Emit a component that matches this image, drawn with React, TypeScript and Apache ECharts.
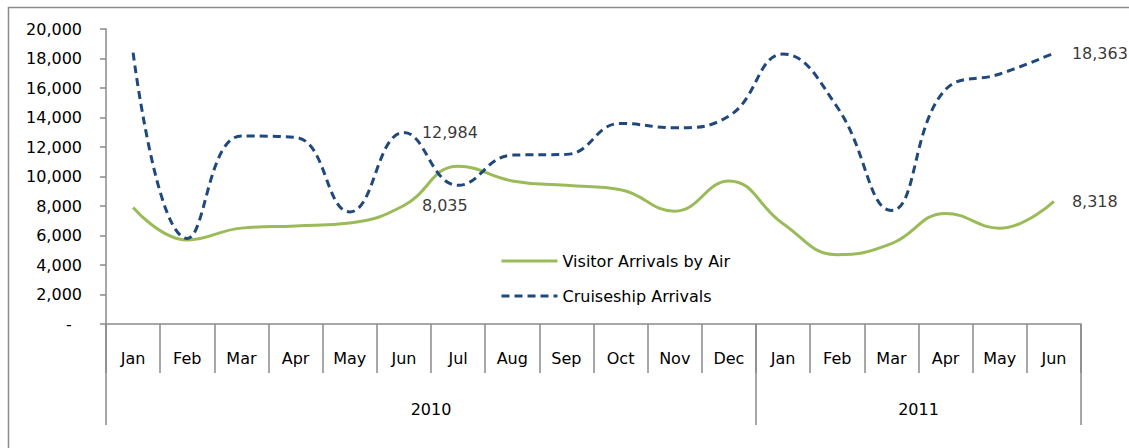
import React, { useEffect, useRef } from "react";
import * as echarts from "echarts";

const months = ["Jan", "Feb", "Mar", "Apr", "May", "Jun", "Jul", "Aug", "Sep", "Oct", "Nov", "Dec", "Jan", "Feb", "Mar", "Apr", "May", "Jun"];
const years = ["2010", "2011"];
const yearMonthCounts = [12, 6];
const airArrivals = [7900, 5700, 6500, 6650, 6850, 8035, 10700, 9700, 9400, 9100, 7650, 9700, 6800, 4700, 5450, 7500, 6500, 8318];
const cruiseArrivals = [18400, 5800, 12750, 12650, 7600, 12984, 9400, 11450, 11500, 13600, 13300, 14100, 18300, 14700, 7700, 15900, 16950, 18363];
const labeledIndices = [5, 17];
const yTicks = { min: 0, max: 20000, step: 2000 };

const FONT = "DejaVu Sans";
const AXIS_COLOR = "#8a8a8a";

export default function App() {
  const ref = useRef<HTMLDivElement>(null);
  useEffect(() => {
    if (!ref.current) return;
    const chart = echarts.init(ref.current, null, { renderer: "svg" });

    const boundaries: number[] = [0];
    const centers: number[] = [];
    let acc = 0;
    yearMonthCounts.forEach((c) => {
      centers.push(acc + c / 2);
      acc += c;
      boundaries.push(acc);
    });

    const labelSeries = (vals: number[]) => ({
      type: "scatter",
      xAxisIndex: 0,
      symbolSize: 0,
      silent: true,
      data: labeledIndices.map((i) => [i, vals[i]]),
      label: {
        show: true,
        position: "right",
        distance: 18,
        color: "#000",
        fontSize: 16,
        fontFamily: FONT,
        formatter: (p: any) => Number(p.value[1]).toLocaleString("en-US"),
      },
      z: 5,
    });

    chart.setOption({
      animation: false,
      textStyle: { fontFamily: FONT },
      grid: { left: 106, right: 48, top: 29, bottom: 124, outerBoundsMode: "none", containLabel: false },
      graphic: [
        { type: "rect", shape: { x: 8.5, y: 7.5, width: 1300, height: 600 }, style: { fill: "none", stroke: "#8c8c8c", lineWidth: 1.5 }, silent: true, z: -1 },
      ],
      legend: {
        orient: "vertical",
        left: 495,
        top: 248,
        itemWidth: 56,
        itemHeight: 16,
        itemGap: 19,
        itemStyle: { opacity: 0 },
        lineStyle: { width: 3 },
        textStyle: { fontSize: 16, color: "#000", fontFamily: FONT },
        data: ["Visitor Arrivals by Air", "Cruiseship Arrivals"],
      },
      xAxis: [
        {
          type: "category",
          position: "bottom",
          data: months,
          boundaryGap: true,
          axisLine: { show: true, lineStyle: { color: AXIS_COLOR, width: 1.5 } },
          axisTick: { show: true, interval: 0, length: 49, lineStyle: { color: AXIS_COLOR, width: 1.5 } },
          axisLabel: { interval: 0, margin: 26, fontSize: 16, color: "#000", fontFamily: FONT },
          splitLine: { show: false },
        },
        {
          type: "value",
          position: "bottom",
          min: 0,
          max: acc,
          axisLine: { show: false },
          axisTick: { show: true, customValues: boundaries, length: 101, lineStyle: { color: AXIS_COLOR, width: 1.5 } },
          axisLabel: {
            customValues: centers,
            margin: 77,
            fontSize: 16,
            color: "#000",
            fontFamily: FONT,
            formatter: (v: number) => {
              const idx = centers.indexOf(v);
              return idx >= 0 ? years[idx] : "";
            },
          },
          splitLine: { show: false },
        },
      ],
      yAxis: {
        type: "value",
        min: yTicks.min,
        max: yTicks.max,
        interval: yTicks.step,
        axisLine: { show: true, lineStyle: { color: AXIS_COLOR, width: 1.5 } },
        axisTick: { show: true, length: 6, lineStyle: { color: AXIS_COLOR, width: 1.5 } },
        axisLabel: {
          margin: 24,
          fontSize: 16,
          color: "#000",
          fontFamily: FONT,
          formatter: (v: number) => (v === 0 ? "-\u2007" : v.toLocaleString("en-US")),
        },
        splitLine: { show: false },
      },
      series: [
        {
          name: "Visitor Arrivals by Air",
          type: "line",
          xAxisIndex: 0,
          data: airArrivals,
          smooth: 0.45,
          symbol: "none",
          lineStyle: { color: "#9BBB59", width: 3 },
          itemStyle: { color: "#9BBB59" },
        },
        {
          name: "Cruiseship Arrivals",
          type: "line",
          xAxisIndex: 0,
          data: cruiseArrivals,
          smooth: 0.45,
          symbol: "none",
          lineStyle: { color: "#1F497D", width: 3, type: [8, 5] },
          itemStyle: { color: "#1F497D" },
        },
        labelSeries(airArrivals),
        labelSeries(cruiseArrivals),
      ],
    });
    return () => chart.dispose();
  }, []);
  return <div ref={ref} style={{ position: "absolute", left: 0, top: 0, width: 1129, height: 448 }} />;
}
